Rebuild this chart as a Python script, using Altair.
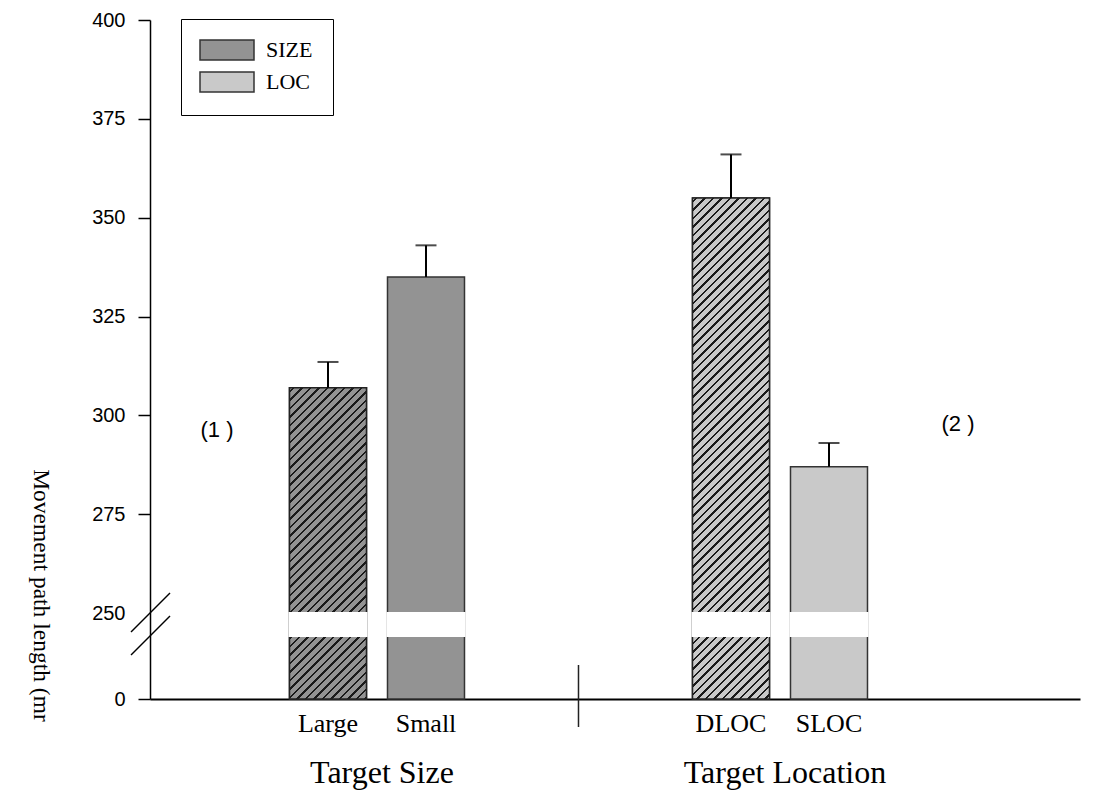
import altair as alt
import pandas as pd

# ---------------- data ----------------
conditions = ["Large", "Small", "DLOC", "SLOC"]
groups = ["Target Size", "Target Size", "Target Location", "Target Location"]
series = ["SIZE", "SIZE", "LOC", "LOC"]
slots = ["1", "2", "1", "2"]
means = [307.0, 335.0, 355.0, 287.0]
sems = [6.5, 8.0, 11.0, 6.0]
hatched = [True, False, True, False]
y_ticks = [0, 250, 275, 300, 325, 350, 375, 400]
group_order = ["Target Size", "Target Location"]
series_order = ["SIZE", "LOC"]
series_colors = ["#939393", "#c9c9c9"]

# ---------------- layout / broken axis ----------------
PLOT_W, PLOT_H = 930, 679
Y_MAX = 400.0
BREAK = 250.0
BREAK_PX = 593          # pixel distance of the 250 line from the top
BASE_GAP_PX = 86        # pixel distance from 250 line down to the 0 line
GAP_PX = 23             # white gap height in the bars
K = BREAK_PX / (Y_MAX - BREAK)          # px per unit above the break
D0 = BREAK - BASE_GAP_PX / K            # display value representing 0
GAP_LO = BREAK - GAP_PX / K


def disp(v):
    """Map a true value onto the broken display axis."""
    return v if v >= BREAK else D0 + v * (BREAK - D0) / BREAK


df = pd.DataFrame({
    "condition": conditions,
    "group": groups,
    "series": series,
    "slot": slots,
    "mean": [disp(m) for m in means],
    "err": [disp(m + s) for m, s in zip(means, sems)],
    "hatched": hatched,
})

BAR_W = 77.0
x_scale = alt.Scale(domain=group_order, paddingInner=0, paddingOuter=0.15385, align=0.2056)
xo_scale = alt.Scale(domain=["1", "2"], range=[114, 289], paddingInner=0.2143, paddingOuter=0)
y_scale = alt.Scale(domain=[D0, Y_MAX], nice=False, zero=False)

x_axis = alt.Axis(
    title=None, ticks=False, tickSize=0, domainColor="black", domainWidth=2,
    labelFont="Liberation Serif", labelFontSize=32, labelColor="black",
    labelPadding=83, labelBaseline="alphabetic", labelAngle=0, labelLimit=0,
    labelOffset=5,
)
x_enc = alt.X("group:N", scale=x_scale, axis=x_axis)
xo_enc = alt.XOffset("slot:N", scale=xo_scale)

y_axis = alt.Axis(
    values=[disp(t) for t in y_ticks],
    labelExpr="datum.value < 249 ? '0' : format(datum.value, 'd')",
    grid=False,
    tickSize=12, tickWidth=1.5, tickColor="black",
    tickOpacity={"condition": {"test": "abs(datum.value - 250) < 0.01", "value": 0}, "value": 1},
    domainColor="black", domainWidth=1.5,
    labelFont="Liberation Sans", labelFontSize=20, labelColor="black", labelPadding=13,
    title="Movement path length (mr", titleAngle=90, titleX=-110, titleY=575,
    titleAlign="center", titleBaseline="middle", titleFont="Liberation Serif",
    titleFontSize=23.5, titleFontWeight="normal", titleColor="black",
)


def yq(field):
    return alt.Y(field, scale=y_scale, axis=y_axis)


def hatch_fill(base, w, h, period=8.5, dark=2.6, line="#1a1a1a"):
    denom = w * w + h * h
    stops = [{"offset": 0, "color": base}]
    d = period / 2.0
    while d - dark / 2 < w + h:
        a = round(max(0.0, d - dark / 2) * w / denom, 6)
        b = round(min(w + h, d + dark / 2) * w / denom, 6)
        stops += [
            {"offset": a, "color": base},
            {"offset": a, "color": line},
            {"offset": b, "color": line},
            {"offset": b, "color": base},
        ]
        d += period
    return {"gradient": "linear", "x1": 0, "y1": 0, "x2": 1, "y2": h / w, "stops": stops}


base = alt.Chart(df)

bars = base.mark_bar(stroke="#333333", strokeWidth=1.5).encode(
    x=x_enc, xOffset=xo_enc, y=yq("mean:Q"), y2=alt.datum(D0),
    color=alt.Color(
        "series:N",
        scale=alt.Scale(domain=series_order, range=series_colors),
        legend=alt.Legend(
            title=None, orient="none", legendX=31, legendY=-1, direction="vertical",
            symbolType="M-2.7,-1H2.7V1H-2.7Z", symbolSize=400,
            symbolStrokeColor="#333333", symbolStrokeWidth=1.5,
            symbolOffset=15, labelOffset=28,
            labelFont="Liberation Serif", labelFontSize=22, labelColor="black",
            rowPadding=6, padding=20, strokeColor="black", fillColor="white",
        ),
    ),
)

layers = [bars]
color_of = dict(zip(series_order, series_colors))
for cond, ser, m, h in zip(conditions, series, df["mean"], hatched):
    if not h:
        continue
    hpx = (m - D0) * K
    layers.append(
        base.transform_filter(alt.datum.condition == cond)
        .mark_bar(fill=hatch_fill(color_of[ser], BAR_W, hpx), stroke="#222222", strokeWidth=1.5)
        .encode(x=x_enc, xOffset=xo_enc, y=yq("mean:Q"), y2=alt.datum(D0))
    )

gap = base.mark_bar(fill="white", stroke="white", strokeWidth=2).encode(
    x=x_enc, xOffset=xo_enc, y=alt.Y(datum=BREAK, scale=y_scale, axis=y_axis), y2=alt.datum(GAP_LO)
)

err_rule = base.mark_rule(color="black", strokeWidth=2).encode(
    x=x_enc, xOffset=xo_enc, y=yq("mean:Q"), y2="err:Q"
)
err_cap = base.mark_tick(orient="horizontal", color="black", size=21, thickness=2).encode(
    x=x_enc, xOffset=xo_enc, y=yq("err:Q")
)

bar_labels = base.mark_text(
    font="Liberation Serif", fontSize=26, baseline="alphabetic", color="black"
).encode(x=x_enc, xOffset=xo_enc, y=alt.value(712), text="condition:N")

one = pd.DataFrame({"k": [0]})
separator = alt.Chart(one).mark_rule(color="#222222", strokeWidth=1.5).encode(
    x=alt.X(datum="Target Location", type="nominal", bandPosition=0, scale=x_scale, axis=x_axis),
    y=alt.value(645), y2=alt.value(707),
)

brk = pd.DataFrame({
    "lo": [BREAK - 19 / K, GAP_LO - 19 / K],
    "hi": [BREAK + 20 / K, GAP_LO + 20 / K],
})
break_marks = alt.Chart(brk).mark_rule(color="black", strokeWidth=1.5).encode(
    x=alt.value(-19), x2=alt.value(20), y=yq("lo:Q"), y2="hi:Q"
)

ann1 = alt.Chart(pd.DataFrame({"t": ["(1 )"]})).mark_text(
    font="Liberation Sans", fontSize=22, baseline="alphabetic", color="black"
).encode(x=alt.value(67), y=alt.value(417), text="t:N")
ann2 = alt.Chart(pd.DataFrame({"t": ["(2 )"]})).mark_text(
    font="Liberation Sans", fontSize=22, baseline="alphabetic", color="black"
).encode(x=alt.value(808), y=alt.value(411), text="t:N")

layers += [gap, err_rule, err_cap, bar_labels, separator, break_marks, ann1, ann2]

chart = (
    alt.layer(*layers)
    .properties(
        width=PLOT_W, height=PLOT_H,
        autosize=alt.AutoSizeParams(type="none"),
        padding={"left": 142, "top": 12, "right": 6, "bottom": 91},
        background="white",
    )
    .configure(font="Liberation Sans")
    .configure_view(stroke="transparent", strokeWidth=0)
)

chart.save("out.html", embed_options={"renderer": "svg", "actions": False})
